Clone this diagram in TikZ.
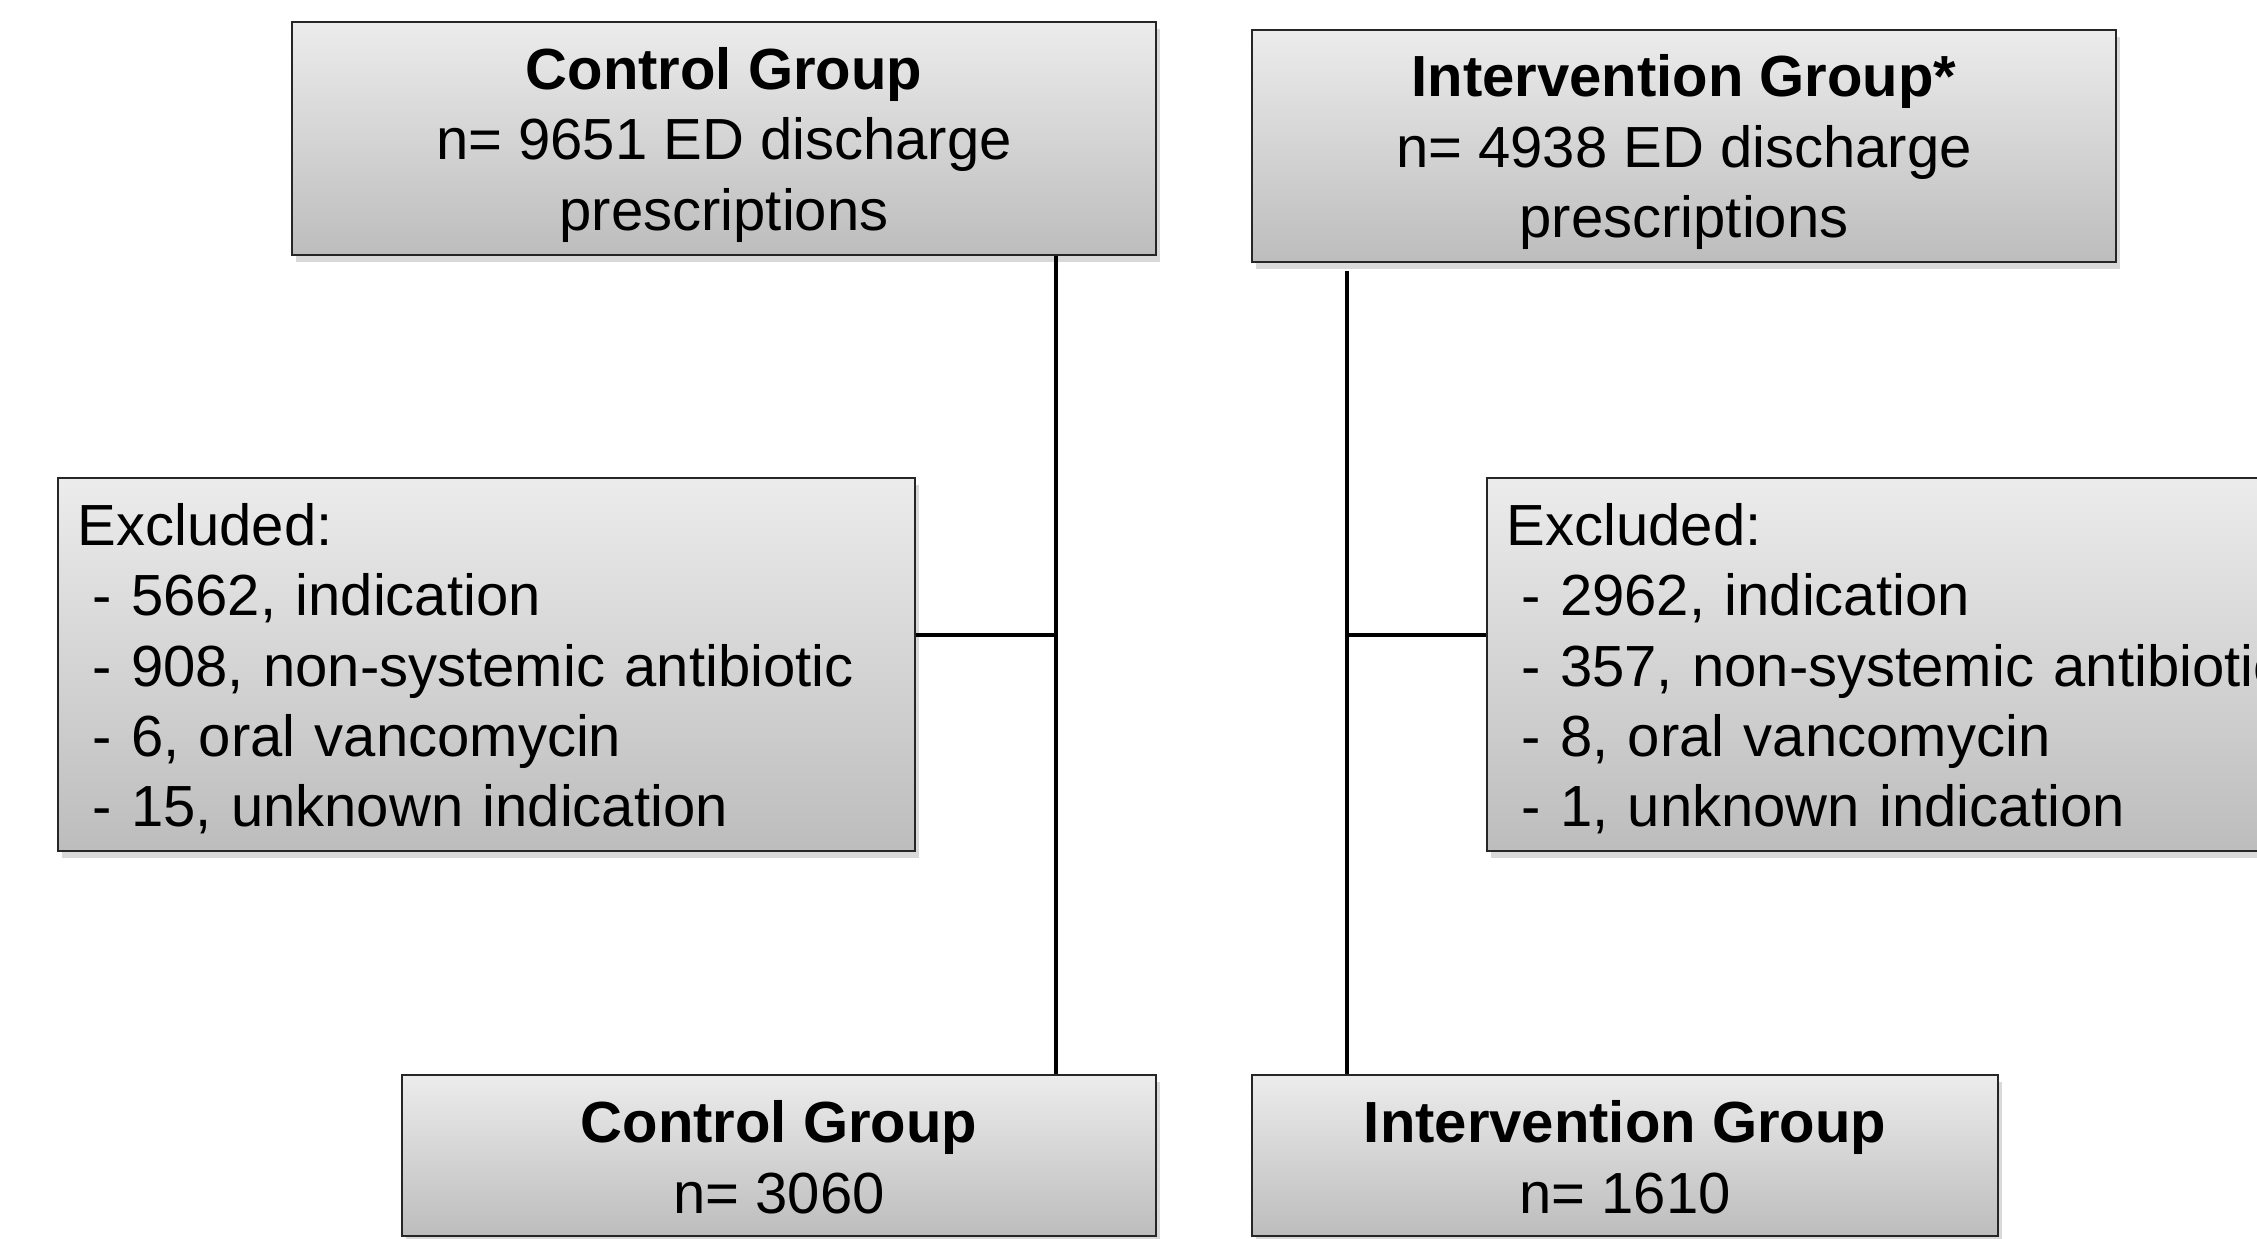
\documentclass[tikz,border=0pt]{standalone}
\usepackage{fontspec}
\setmainfont{Liberation Sans}
\usetikzlibrary{shadows}

\newcommand{\itemdash}{\hspace*{4.2pt}- }

\begin{document}
\begin{tikzpicture}[
  x=0.01cm, y=-0.01cm,
  groupbox/.style={draw=black!85, line width=0.6pt, top color=gray!15, bottom color=gray!52,
    drop shadow={opacity=0.3, shadow xshift=0.04cm, shadow yshift=-0.07cm},
    align=center, inner sep=0pt, font=\fontsize{16.5}{20}\selectfont},
  exclbox/.style={groupbox, align=left, text width=8.17cm, inner xsep=0.2cm, inner ysep=0pt,
    minimum height=3.73cm},
  link/.style={line width=1.4pt}
]
\useasboundingbox (0,0) rectangle (2257,1238);
\node[groupbox, minimum width=8.64cm, minimum height=2.33cm] (ctop) at (724,138.5)
  {\rule{0pt}{15.5pt}\textbf{Control Group}\\n= 9651 ED discharge\\prescriptions};
\node[groupbox, minimum width=8.64cm, minimum height=2.32cm] (itop) at (1684,146)
  {\rule{0pt}{15.5pt}\textbf{Intervention Group*}\\n= 4938 ED discharge\\prescriptions};
\node[exclbox] (cexcl) at (486.5,664.5)
  {\rule{0pt}{14.5pt}Excluded:\\\itemdash 5662, indication\\\itemdash 908, non-systemic antibiotic\\\itemdash 6, oral vancomycin\\\itemdash 15, unknown indication};
\node[exclbox] (iexcl) at (1915.5,664.5)
  {\rule{0pt}{14.5pt}Excluded:\\\itemdash 2962, indication\\\itemdash 357, non-systemic antibiotic\\\itemdash 8, oral vancomycin\\\itemdash 1, unknown indication};
\node[groupbox, minimum width=7.54cm, minimum height=1.61cm] (cbot) at (779,1155.5)
  {\rule{0pt}{13pt}\textbf{Control Group}\\n= 3060};
\node[groupbox, minimum width=7.46cm, minimum height=1.61cm] (ibot) at (1625,1155.5)
  {\rule{0pt}{13pt}\textbf{Intervention Group}\\n= 1610};
\coordinate (cjoin) at (1056,635);
\coordinate (ijoin) at (1347,635);
\draw[link] (ctop.south -| cjoin) -- (cbot.north -| cjoin);
\draw[link] (cexcl.east |- cjoin) -- (cjoin);
\draw[link] (itop.south -| ijoin) ++(0,8) -- (ibot.north -| ijoin);
\draw[link] (iexcl.west |- ijoin) -- (ijoin);
\end{tikzpicture}
\end{document}
